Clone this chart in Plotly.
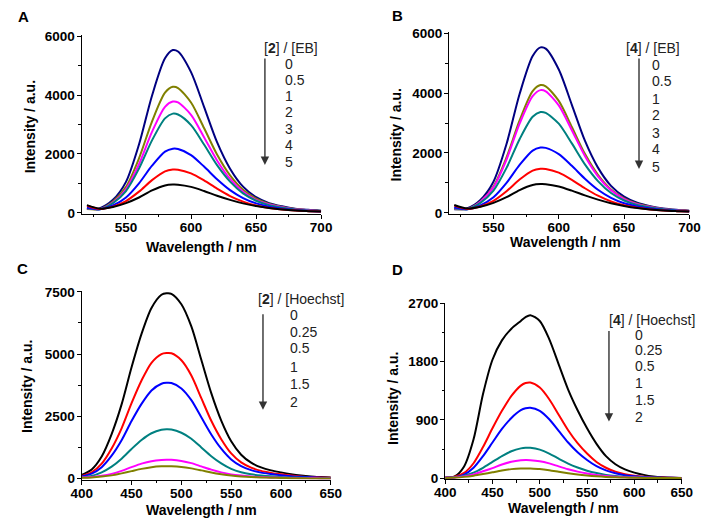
import plotly.graph_objects as go

W, H = 713, 529

# ---------------- data ----------------
wl_eb = [520, 530, 540, 550, 560, 570, 580, 586, 590, 600, 610, 620, 630, 640, 650, 660, 670, 680, 690, 700]

a_0 = [130, 160, 440, 1050, 2320, 3980, 5250, 5530, 5480, 4780, 3600, 2400, 1500, 890, 530, 330, 220, 140, 100, 70]
a_05 = [130, 130, 380, 880, 1850, 3100, 4080, 4280, 4240, 3750, 2880, 1980, 1270, 780, 480, 300, 200, 130, 90, 60]
a_1 = [150, 125, 350, 800, 1650, 2750, 3600, 3780, 3750, 3330, 2570, 1780, 1150, 710, 440, 280, 190, 120, 85, 55]
a_2 = [150, 120, 330, 740, 1500, 2460, 3210, 3370, 3340, 2980, 2320, 1620, 1060, 660, 410, 260, 175, 115, 80, 55]
a_3 = [180, 120, 250, 520, 1000, 1600, 2080, 2180, 2170, 1960, 1570, 1140, 770, 500, 320, 210, 140, 95, 65, 45]
a_4 = [240, 130, 210, 400, 720, 1110, 1410, 1470, 1465, 1340, 1100, 820, 570, 380, 250, 165, 110, 75, 55, 40]
a_5 = [260, 140, 200, 330, 520, 760, 930, 960, 955, 880, 740, 580, 440, 320, 230, 160, 110, 75, 55, 40]

b_0 = [120, 150, 430, 1040, 2300, 3970, 5240, 5530, 5490, 4790, 3610, 2410, 1510, 900, 540, 335, 220, 145, 100, 70]
b_05 = [130, 130, 380, 880, 1850, 3090, 4070, 4270, 4230, 3740, 2870, 1970, 1270, 780, 480, 300, 200, 130, 90, 60]
b_1 = [140, 125, 370, 850, 1780, 2980, 3900, 4100, 4060, 3590, 2760, 1900, 1220, 750, 460, 290, 195, 125, 88, 58]
b_2 = [150, 120, 330, 740, 1500, 2460, 3210, 3370, 3340, 2980, 2320, 1620, 1060, 660, 410, 260, 175, 115, 80, 55]
b_3 = [180, 120, 250, 520, 1000, 1600, 2080, 2180, 2170, 1960, 1570, 1140, 770, 500, 320, 210, 140, 95, 65, 45]
b_4 = [240, 130, 210, 400, 720, 1110, 1410, 1470, 1465, 1340, 1100, 820, 570, 380, 250, 165, 110, 75, 55, 40]
b_5 = [260, 140, 200, 330, 520, 760, 930, 960, 955, 880, 740, 580, 440, 320, 230, 160, 110, 75, 55, 40]

wl_ho = [400, 410, 420, 430, 440, 450, 460, 470, 480, 485, 490, 500, 510, 520, 530, 540, 550,
         560, 570, 580, 590, 600, 610, 620, 630, 640, 650]

c_0 = [150, 370, 890, 1790, 2980, 4470, 5810, 6850, 7380, 7440, 7420, 7000, 6110, 4770, 3430, 2330, 1500,
       960, 640, 450, 330, 250, 180, 125, 85, 60, 40]
c_025 = [110, 250, 600, 1210, 2020, 3030, 3940, 4650, 5000, 5040, 5030, 4750, 4140, 3230, 2320, 1580, 1010,
         650, 440, 310, 230, 170, 120, 85, 60, 40, 30]
c_05 = [90, 200, 460, 920, 1540, 2310, 3000, 3540, 3810, 3845, 3835, 3620, 3150, 2460, 1770, 1200, 770,
        500, 340, 240, 180, 130, 95, 70, 50, 35, 25]
c_1 = [60, 110, 250, 480, 800, 1190, 1550, 1820, 1960, 1980, 1970, 1840, 1600, 1250, 900, 610, 390,
       255, 175, 125, 90, 65, 48, 35, 25, 18, 12]
c_15 = [40, 60, 110, 190, 310, 460, 600, 700, 750, 760, 755, 710, 620, 490, 360, 250, 170,
        120, 85, 60, 45, 35, 25, 18, 12, 8, 5]
c_2 = [30, 45, 80, 130, 210, 300, 390, 460, 495, 500, 497, 470, 410, 330, 245, 175, 120,
       85, 60, 45, 35, 25, 18, 12, 8, 5, 3]

d_0 = [10, 25, 180, 600, 1300, 1830, 2130, 2310, 2430, 2490, 2520, 2430, 2150, 1760, 1370, 1050, 770,
       530, 340, 215, 135, 85, 50, 25, 12, 6, 3]
d_025 = [8, 20, 80, 230, 480, 770, 1040, 1270, 1430, 1470, 1478, 1400, 1220, 980, 740, 540, 380,
         250, 160, 100, 60, 35, 20, 12, 8, 5, 3]
d_05 = [6, 15, 55, 160, 340, 550, 760, 930, 1050, 1080, 1088, 1040, 910, 730, 550, 400, 280,
        185, 120, 75, 45, 28, 16, 10, 6, 4, 2]
d_1 = [5, 12, 38, 85, 160, 250, 340, 415, 460, 470, 468, 440, 380, 300, 225, 165, 115,
       78, 50, 32, 20, 13, 8, 5, 3, 2, 1]
d_15 = [4, 10, 27, 58, 105, 155, 210, 252, 275, 280, 278, 262, 228, 182, 138, 100, 70,
        48, 32, 20, 13, 8, 5, 3, 2, 1, 1]
d_2 = [3, 8, 19, 37, 62, 90, 117, 139, 150, 150, 148, 140, 122, 98, 75, 55, 40,
       28, 19, 12, 8, 5, 3, 2, 1, 1, 1]

eb_ratio_labels = ["0", "0.5", "1", "2", "3", "4", "5"]
ho_ratio_labels = ["0", "0.25", "0.5", "1", "1.5", "2"]

eb_colors = ["#000080", "#808000", "#FF00FF", "#008080", "#0000FF", "#FF0000", "#000000"]
ho_colors = ["#000000", "#FF0000", "#0000FF", "#008080", "#FF00FF", "#808000"]

# ---------------- helpers ----------------
def px(x):
    return x / W

def py(y):
    return 1 - y / H

FONT = "Liberation Sans, Arial, sans-serif"

fig = go.Figure()

panels = [
    ("A", wl_eb, [a_0, a_05, a_1, a_2, a_3, a_4, a_5], eb_colors, eb_ratio_labels,
     (73, 320), (30, 213), [516, 700], [-33, 6033], 2000, 1000),
    ("B", wl_eb, [b_0, b_05, b_1, b_2, b_3, b_4, b_5], eb_colors, eb_ratio_labels,
     (452, 700), (27, 213), [516, 700], [-33, 6033], 2000, 1000),
    ("C", wl_ho, [c_0, c_025, c_05, c_1, c_15, c_2], ho_colors, ho_ratio_labels,
     (73, 330), (292, 485.5), [400, 650], [-39, 7539], 2500, 1250),
    ("D", wl_ho, [d_0, d_025, d_05, d_1, d_15, d_2], ho_colors, ho_ratio_labels,
     (448, 692), (304, 485), [400, 650], [-15, 2715], 900, 450),
]

layout_axes = {}
for i, (name, xs, series, cols, labs, xd, yd, xr, yr, ydt, ymn) in enumerate(panels):
    n = i + 1
    xa = "x" if n == 1 else f"x{n}"
    ya = "y" if n == 1 else f"y{n}"
    for s, c, lab in zip(series, cols, labs):
        fig.add_trace(go.Scatter(x=xs, y=s, mode="lines", name=lab,
                                 line=dict(color=c, width=2, shape="spline", smoothing=0.8),
                                 xaxis=xa, yaxis=ya, showlegend=False, hoverinfo="skip"))
    common = dict(showline=True, linecolor="black", linewidth=1.3, showgrid=False, zeroline=False,
                  ticks="outside", ticklen=4, tickwidth=1.2, tickcolor="black",
                  tickfont=dict(family=FONT, size=13.5, color="black", weight=700))
    layout_axes["xaxis" if n == 1 else f"xaxis{n}"] = dict(
        common, domain=[px(xd[0]), px(xd[1])], range=xr, anchor=ya, tick0=400, dtick=50,
        ticklabelstandoff=-3,
        minor=dict(ticks="outside", ticklen=2.5, tick0=400, dtick=25, tickcolor="black", tickwidth=1))
    layout_axes["yaxis" if n == 1 else f"yaxis{n}"] = dict(
        common, domain=[py(yd[1]), py(yd[0])], range=yr, anchor=xa, tick0=0, dtick=ydt,
        ticklabelstandoff=-1,
        minor=dict(ticks="outside", ticklen=2.5, tick0=0, dtick=ymn, tickcolor="black", tickwidth=1))

fig.update_layout(**layout_axes)

ann = []
def text(x, y, s, size=13, bold=False, xanchor="center", color="black", angle=0):
    ann.append(dict(x=px(x), y=py(y), xref="paper", yref="paper", text=s, showarrow=False,
                    xanchor=xanchor, yanchor="middle", textangle=angle,
                    font=dict(family=FONT, size=size, color=color, weight=700 if bold else 400)))

# panel letters
text(13, 11, "A", 15, True)
text(399, 10, "B", 15, True)
text(12, 269, "C", 15, True)
text(399, 270, "D", 15, True)

# axis titles
text(197, 247, "Wavelength / nm", 14, True)
text(572, 242, "Wavelength / nm", 14, True)
text(197, 517, "Wavelength / nm", 14, True)
text(570, 515, "Wavelength / nm", 14, True)
text(20, 124, "Intensity / a.u.", 14, True, angle=-90)
text(397, 132, "Intensity / a.u.", 14, True, angle=-90)
text(17, 390, "Intensity / a.u.", 14, True, angle=-90)
text(394, 402, "Intensity / a.u.", 14, True, angle=-90)

LEG = "#222222"
blocks = [
    ("[<b>2</b>] / [EB]", 289, 43, 281, [59, 76, 92, 109, 126, 143, 160], eb_ratio_labels, 262, 55, 163),
    ("[<b>4</b>] / [EB]", 662, 43, 659, [60, 77, 95, 112, 130, 147, 165], eb_ratio_labels, 648, 55, 167),
    ("[<b>2</b>] / [Hoechst]", 299, 300, 286, [317, 334, 351, 370, 388, 406], ho_ratio_labels, 260, 317, 414),
    ("[<b>4</b>] / [Hoechst]", 661, 322, 642, [337, 353, 369, 387, 404, 421], ho_ratio_labels, 617, 334, 426),
]
for hdr, hx, hy, vx, vys, labs, axx, at, ab in blocks:
    text(hx, hy, hdr, 14, False, color=LEG)
    for lab, vy in zip(labs, vys):
        text(vx, vy, lab, 14, False, xanchor="left", color=LEG)
    ann.append(dict(x=px(axx), y=py(ab), xref="paper", yref="paper", ax=0, ay=-(ab - at),
                    axref="pixel", ayref="pixel", text="", showarrow=True, arrowhead=2,
                    arrowsize=1.2, arrowwidth=1.4, arrowcolor="#333333"))

fig.update_layout(annotations=ann, width=W, height=H,
                  margin=dict(l=0, r=0, t=0, b=0),
                  paper_bgcolor="white", plot_bgcolor="white", showlegend=False)

fig.write_html("out.html", config={"displayModeBar": False},
               post_script="document.body.style.margin='0';document.body.style.overflow='hidden';")
